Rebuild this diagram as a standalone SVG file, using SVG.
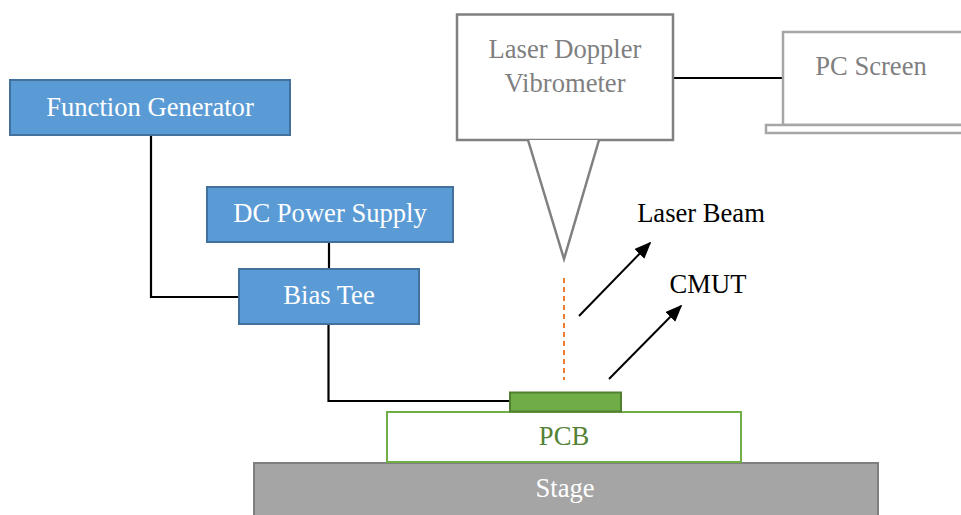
<svg xmlns="http://www.w3.org/2000/svg" width="961" height="515" viewBox="0 0 961 515">
<style>
text{font-family:"Liberation Serif","Times New Roman",serif;font-size:26.6px;text-anchor:middle}
.blue rect{fill:#5B9BD5;stroke:#41719C;stroke-width:2}
.blue text{fill:#FFFFFF}
.wire{fill:none;stroke:#000;stroke-width:2.2}
.gray{fill:#FFFFFF;stroke:#808080;stroke-width:2.5}
.lgray{fill:#FFFFFF;stroke:#A6A6A6;stroke-width:2.5}
.gtext{fill:#7F7F7F}
</style>
<defs>
<marker id="ah" viewBox="0 0 10 10" refX="9" refY="5" markerWidth="8.5" markerHeight="7" orient="auto" markerUnits="strokeWidth" preserveAspectRatio="none">
<path d="M0,0 L10,5 L0,10 Z" fill="#000"/>
</marker>
</defs>
<rect width="961" height="515" fill="#FFFFFF"/>
<g id="connectors">
<polyline class="wire" points="151,136 151,297 239,297"/>
<line class="wire" x1="329" y1="242" x2="329" y2="269"/>
<polyline class="wire" points="328.5,324 328.5,401 510,401"/>
<line class="wire" x1="673" y1="78" x2="783" y2="78"/>
<line x1="564" y1="278" x2="564" y2="380" stroke="#ED7D31" stroke-width="2" stroke-dasharray="5,4"/>
<line x1="579" y1="316" x2="650" y2="243" stroke="#000" stroke-width="2" marker-end="url(#ah)"/>
<line x1="609" y1="379" x2="681" y2="306" stroke="#000" stroke-width="2" marker-end="url(#ah)"/>
</g>
<g id="function-generator" class="blue">
<rect x="10" y="80" width="280" height="55"/>
<text x="150" y="116">Function Generator</text>
</g>
<g id="dc-power-supply" class="blue">
<rect x="207" y="187" width="246" height="55"/>
<text x="330" y="222">DC Power Supply</text>
</g>
<g id="bias-tee" class="blue">
<rect x="239" y="269" width="180" height="55"/>
<text x="329" y="304">Bias Tee</text>
</g>
<g id="ldv">
<rect class="gray" x="457" y="14.5" width="216" height="125.5"/>
<polyline class="gray" points="528,140 564,259 599,140" fill="none"/>
<text class="gtext" x="565" y="58">Laser Doppler</text>
<text class="gtext" x="565" y="92">Vibrometer</text>
</g>
<g id="pc-screen">
<rect class="lgray" x="783" y="32" width="190" height="93"/>
<rect class="lgray" x="766" y="125" width="210" height="8"/>
<text class="gtext" x="871" y="75">PC Screen</text>
</g>
<g id="laser-beam-label">
<text x="701" y="222">Laser Beam</text>
</g>
<g id="cmut-label">
<text x="708" y="293">CMUT</text>
</g>
<g id="stage">
<rect x="254" y="463" width="624" height="60" fill="#A5A5A5" stroke="#7F7F7F" stroke-width="2"/>
<text x="565" y="497" fill="#FFFFFF">Stage</text>
</g>
<g id="pcb">
<rect x="387" y="412" width="354" height="50" fill="#FFFFFF" stroke="#70AD47" stroke-width="2"/>
<text x="564" y="445" fill="#548235">PCB</text>
</g>
<g id="cmut">
<rect x="510" y="392.5" width="111" height="19" fill="#70AD47" stroke="#507E32" stroke-width="2"/>
</g>
</svg>
